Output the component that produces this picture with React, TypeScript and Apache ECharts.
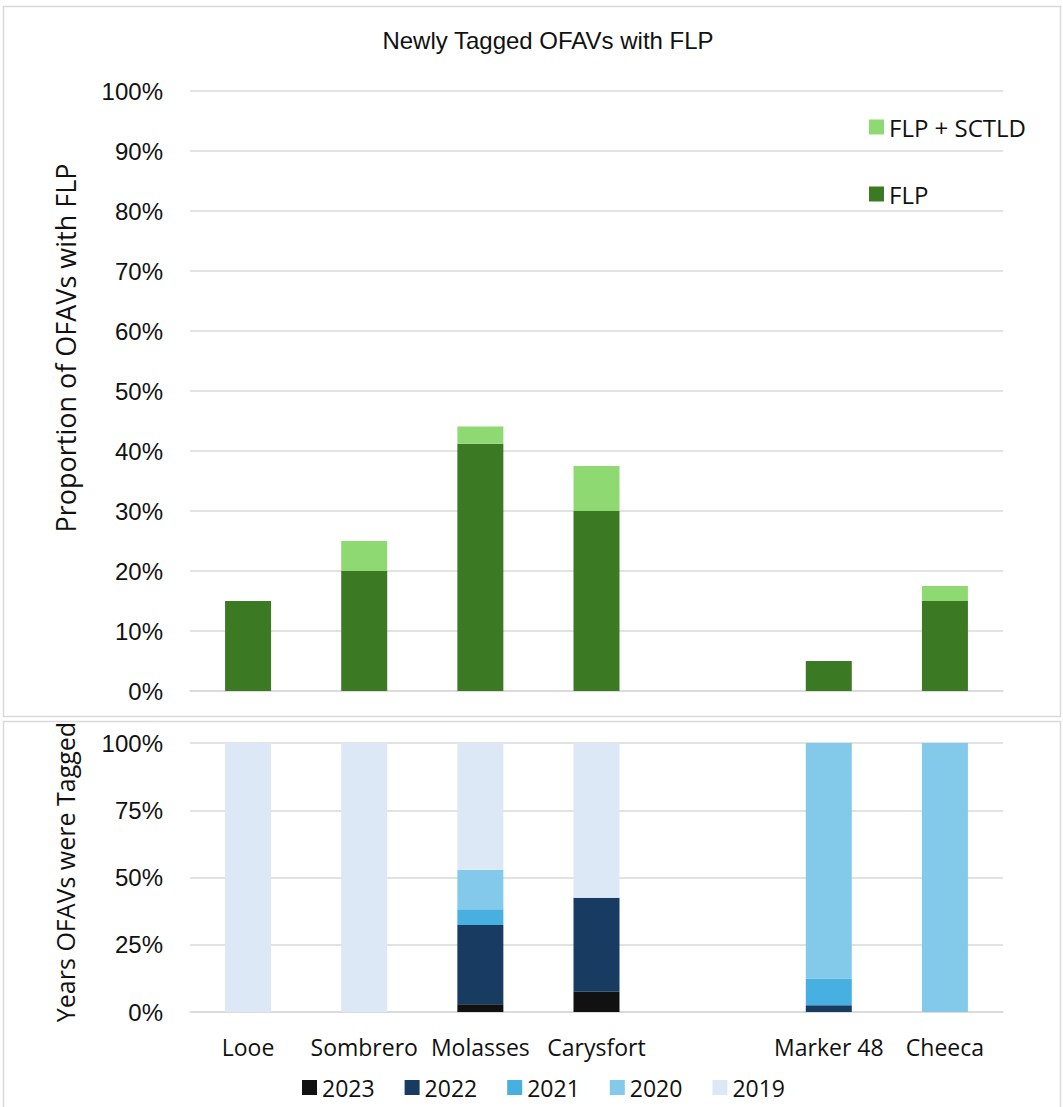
import React, { useEffect, useRef } from "react";
import * as echarts from "echarts";

const categories = ["Looe", "Sombrero", "Molasses", "Carysfort", "", "Marker 48", "Cheeca"];
const flp = [15, 20, 41.2, 30, null, 5, 15];
const flpSctld = [null, 5, 2.9, 7.5, null, null, 2.5];
const y2023 = [null, null, 2.9, 7.5, null, null, null];
const y2022 = [null, null, 29.4, 35, null, 2.5, null];
const y2021 = [null, null, 5.9, null, null, 10, null];
const y2020 = [null, null, 14.7, null, null, 87.5, 100];
const y2019 = [100, 100, 47.1, 57.5, null, null, null];
const topTicks = [0, 10, 20, 30, 40, 50, 60, 70, 80, 90, 100];
const bottomTicks = [0, 25, 50, 75, 100];

const FONT = "'Liberation Sans', Arial, sans-serif";
const FONT2 = "'Open Sans', 'Noto Sans', sans-serif";

export default function App() {
  const ref = useRef<HTMLDivElement>(null);
  useEffect(() => {
    document.body.style.margin = "0";
    const chart = echarts.init(ref.current!, null, { renderer: "svg" });
    const grid1 = { left: 190, top: 91, width: 813, height: 600 };
    const grid2 = { left: 190, top: 743, width: 813, height: 269 };
    const split = { show: true, lineStyle: { color: "#d9d9d9", width: 1.5 } };
    const barW = 46;
    chart.setOption({
      animation: false,
      backgroundColor: "#fff",
      grid: [grid1, grid2],
      xAxis: [
        {
          type: "category", gridIndex: 0, data: categories,
          axisLine: { lineStyle: { color: "#d9d9d9", width: 1.5 } },
          axisTick: { show: false }, axisLabel: { show: false },
        },
        {
          type: "category", gridIndex: 1, data: categories,
          axisLine: { lineStyle: { color: "#d9d9d9", width: 1.5 } },
          axisTick: { show: false },
          axisLabel: { fontSize: 23, color: "#111", fontFamily: FONT2, margin: 23, interval: 0 },
        },
      ],
      yAxis: [
        {
          type: "value", gridIndex: 0, min: topTicks[0], max: topTicks[topTicks.length - 1], interval: 10,
          splitLine: split, axisLine: { show: false }, axisTick: { show: false },
          axisLabel: { formatter: "{value}%", fontSize: 24, color: "#111", fontFamily: FONT, margin: 27 },
        },
        {
          type: "value", gridIndex: 1, min: bottomTicks[0], max: bottomTicks[bottomTicks.length - 1], interval: 25,
          splitLine: split, axisLine: { show: false }, axisTick: { show: false },
          axisLabel: { formatter: "{value}%", fontSize: 24, color: "#111", fontFamily: FONT, margin: 27 },
        },
      ],
      legend: [
        {
          data: ["FLP + SCTLD", "FLP"], orient: "vertical", left: 864, top: 110, itemGap: 43,
          itemWidth: 15, itemHeight: 15, icon: "rect",
          textStyle: { fontSize: 24, color: "#111", fontFamily: FONT2 },
        },
        {
          data: ["2023", "2022", "2021", "2020", "2019"], orient: "horizontal", left: 297, top: 1071,
          itemGap: 30, itemWidth: 15, itemHeight: 15, icon: "rect",
          textStyle: { fontSize: 23, color: "#111", fontFamily: FONT2 },
        },
      ],
      series: [
        { name: "FLP", type: "bar", stack: "a", xAxisIndex: 0, yAxisIndex: 0, data: flp, barWidth: barW, itemStyle: { color: "#3b7a23" } },
        { name: "FLP + SCTLD", type: "bar", stack: "a", xAxisIndex: 0, yAxisIndex: 0, data: flpSctld, barWidth: barW, itemStyle: { color: "#8fd973" } },
        { name: "2023", type: "bar", stack: "b", xAxisIndex: 1, yAxisIndex: 1, data: y2023, barWidth: barW, itemStyle: { color: "#111111" } },
        { name: "2022", type: "bar", stack: "b", xAxisIndex: 1, yAxisIndex: 1, data: y2022, barWidth: barW, itemStyle: { color: "#173b61" } },
        { name: "2021", type: "bar", stack: "b", xAxisIndex: 1, yAxisIndex: 1, data: y2021, barWidth: barW, itemStyle: { color: "#47b0e0" } },
        { name: "2020", type: "bar", stack: "b", xAxisIndex: 1, yAxisIndex: 1, data: y2020, barWidth: barW, itemStyle: { color: "#82c9ea" } },
        { name: "2019", type: "bar", stack: "b", xAxisIndex: 1, yAxisIndex: 1, data: y2019, barWidth: barW, itemStyle: { color: "#dce8f5" } },
      ],
      graphic: [
        { type: "rect", shape: { x: 3.5, y: 6.5, width: 1057, height: 710 }, style: { fill: "none", stroke: "#d9d9d9", lineWidth: 1.5 }, z: -1 },
        { type: "rect", shape: { x: 3.5, y: 721.5, width: 1057, height: 390 }, style: { fill: "none", stroke: "#d9d9d9", lineWidth: 1.5 }, z: -1 },
        {
          type: "text", x: 548, y: 40,
          style: { text: "Newly Tagged OFAVs with FLP", fontSize: 24, fill: "#111", fontFamily: FONT, align: "center", verticalAlign: "middle" },
        },
        {
          type: "text", x: 65, y: 348, rotation: Math.PI / 2,
          style: { text: "Proportion of OFAVs with FLP", fontSize: 27, fill: "#111", fontFamily: FONT2, align: "center", verticalAlign: "middle" },
        },
        {
          type: "text", x: 65, y: 872, rotation: Math.PI / 2,
          style: { text: "Years OFAVs were Tagged", fontSize: 25, fill: "#111", fontFamily: FONT2, align: "center", verticalAlign: "middle" },
        },
      ],
    });
    return () => chart.dispose();
  }, []);
  return <div ref={ref} style={{ width: 1063, height: 1107 }} />;
}
